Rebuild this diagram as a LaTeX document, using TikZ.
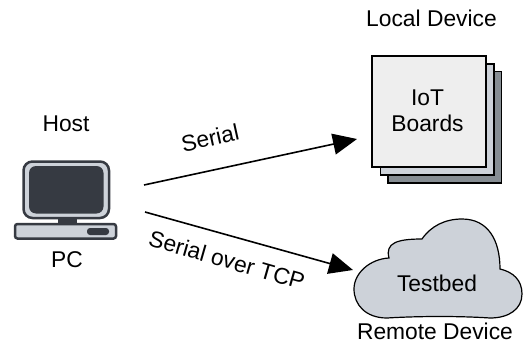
\documentclass[tikz,border=0pt]{standalone}
\usepackage{fontspec}
\setmainfont{Liberation Sans}
\usetikzlibrary{arrows.meta}
\definecolor{darkc}{HTML}{363A42}
\definecolor{lightc}{HTML}{CDD2D9}
\definecolor{paperc}{HTML}{EEEEEE}
\definecolor{midc}{HTML}{868D93}
\tikzset{
  label text/.style={font=\fontsize{22.8}{26.5}\selectfont, text=black, inner sep=0pt, align=center},
  link/.style={line width=1.6pt, draw=black, -{Triangle[length=24pt,width=21pt]}},
  sheet/.style={draw=black, line width=1.3pt},
  pcline/.style={draw=darkc, line width=2.5pt}
}
\begin{document}
\begin{tikzpicture}[x=1pt,y=-1pt]
\useasboundingbox (0,0) rectangle (531,343);
% PC
\fill[darkc] (58,218) rectangle (77,225);
\draw[pcline, fill=lightc, rounded corners=9pt] (23.5,161.5) rectangle (109,218);
\fill[darkc, rounded corners=7pt] (29,166) rectangle (103.5,213.5);
\draw[pcline, fill=lightc, rounded corners=2.5pt] (15,224) rectangle (116,238.5);
\fill[darkc, rounded corners=3pt] (87,228) rectangle (109,235);
\node[label text] (host) at (66,124) {Host};
\node[label text] (pc) at (67,260) {PC};
\coordinate (pcupper) at (144,185);
\coordinate (pclower) at (145,212);
% Boards
\draw[sheet, fill=midc] (388,71.5) rectangle (501.5,183);
\draw[sheet, fill=lightc] (380.5,64) rectangle (494,175);
\draw[sheet, fill=paperc] (372,56) rectangle (486,167);
\node[label text] (boards) at (427.5,111) {IoT\\Boards};
\node[label text] (local) at (431.5,18) {Local Device};
\coordinate (boardsin) at (357,139);
% Cloud
\draw[draw=black, line width=1.2pt, fill=lightc]
  (387,318)
  .. controls (366,318) and (354,305) .. (354,289)
  .. controls (354,273) and (370,259) .. (389,258)
  .. controls (385,243) and (397,239) .. (422,239)
  .. controls (431,226) and (445,219) .. (462,219)
  .. controls (488,219) and (500,240) .. (500,269)
  .. controls (513,272) and (522,280) .. (522,294)
  .. controls (522,309) and (509,318) .. (490,318)
  .. controls (460,316) and (420,316) .. (387,318) -- cycle;
\node[label text] (testbed) at (437,283) {Testbed};
\node[label text] (remote) at (435,331) {Remote Device};
\coordinate (cloudin) at (353,270);
% Links
\draw[link] (pcupper) -- (boardsin);
\draw[link] (pclower) -- (cloudin);
\node[label text, rotate=12.5] (lserial) at (210,138) {Serial};
\node[label text, rotate=-16] (ltcp) at (227,260) {Serial over TCP};
\end{tikzpicture}
\end{document}
